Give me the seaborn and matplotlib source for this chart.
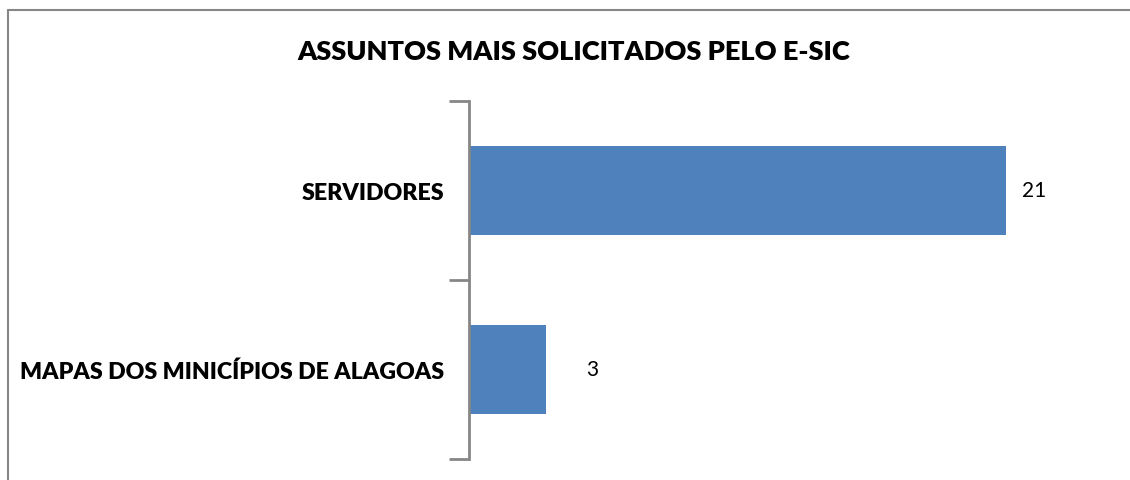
import matplotlib
matplotlib.use("Agg")
import matplotlib.pyplot as plt
import seaborn as sns
import pandas as pd
from matplotlib.lines import Line2D

categories = ["SERVIDORES", "MAPAS DOS MINICÍPIOS DE ALAGOAS"]
values = [21, 3]
title = "ASSUNTOS MAIS SOLICITADOS PELO E-SIC"

sns.set_style("white")
plt.rcParams['font.family'] = ['Lato', 'DejaVu Sans']

df = pd.DataFrame({"cat": categories, "val": values})

fig = plt.figure(figsize=(11.3, 4.81), dpi=100)
ax = fig.add_axes([469/1130, 1 - 460/481, (1095 - 469)/1130, (460 - 102)/481])

sns.barplot(data=df, y="cat", x="val", order=categories, color="#4F81BD",
            width=0.5, saturation=1, ax=ax, edgecolor="none")

ax.set_xlim(0, 24.5)
ax.set_ylim(1.5, -0.5)
ax.set_xlabel("")
ax.set_ylabel("")
ax.set_xticks([])
for s in ["top", "right", "bottom"]:
    ax.spines[s].set_visible(False)
ax.spines["left"].set_color("#868686")
ax.spines["left"].set_linewidth(2)

# major ticks at category boundaries, labels on minor ticks at centers
ax.set_yticks([-0.5, 0.5, 1.5])
ax.set_yticklabels([])
ax.set_yticks([0, 1], minor=True)
ax.set_yticklabels(categories, minor=True, fontsize=16.7, fontweight="heavy",
                   color="black")
ax.tick_params(axis="y", which="major", left=True, length=14.5, width=2,
               color="#868686", direction="out")
ax.tick_params(axis="y", which="minor", left=True, length=0, pad=18)

label_dx = [1.13, 1.81]
for i, (v, dx) in enumerate(zip(values, label_dx)):
    ax.text(v + dx, i, str(v), ha="center", va="center", fontsize=15, color="black")

fig.text(574/1130, 1 - 52/481, title, ha="center", va="center",
         fontsize=19.5, fontweight="heavy", color="black")

fig.add_artist(Line2D([7.5/1130, 1], [1 - 10.5/481] * 2, transform=fig.transFigure,
                      color="#868686", lw=1.5))
fig.add_artist(Line2D([7.5/1130] * 2, [0, 1 - 10.5/481], transform=fig.transFigure,
                      color="#868686", lw=1.5))

fig.savefig("out.png", dpi=100, facecolor="white")
